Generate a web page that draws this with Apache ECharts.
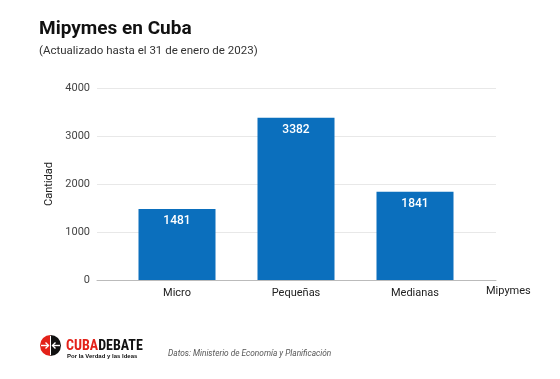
<!DOCTYPE html>
<html><head><meta charset="utf-8">
<script src="https://cdn.jsdelivr.net/npm/echarts@6/dist/echarts.min.js"></script>
<style>html,body{margin:0;padding:0;background:#fff}#c{width:560px;height:379px}</style>
</head><body><div id="c"></div>
<script>
const categories = ['Micro', 'Pequeñas', 'Medianas'];
const values = [1481, 3382, 1841];
const yTicks = [0, 1000, 2000, 3000, 4000];
const titleText = 'Mipymes en Cuba';
const subtitleText = '(Actualizado hasta el 31 de enero de 2023)';
const sourceText = 'Datos: Ministerio de Economía y Planificación';
const font = 'Roboto, Arial, sans-serif';

const chart = echarts.init(document.getElementById('c'), null, {renderer: 'canvas'});
chart.setOption({
  backgroundColor: '#fff',
  animation: false,
  title: [
    {text: titleText, left: 34, top: 15, padding: 5, textStyle: {fontFamily: font, fontSize: 19, fontWeight: 'bold', color: '#111'}},
    {text: subtitleText, left: 34, top: 40, padding: 5, textStyle: {fontFamily: font, fontSize: 11.5, fontWeight: 'normal', color: '#333'}}
  ],
  grid: [
    {left: 97, right: 64, top: 88, bottom: 99},
    {left: 117.5, right: 85.5, top: 88, bottom: 99}
  ],
  xAxis: [
    {gridIndex: 0, type: 'category', data: [''], axisLine: {lineStyle: {color: '#bbb'}}, axisTick: {show: false}, axisLabel: {show: false}},
    {gridIndex: 1, type: 'category', data: categories, axisLine: {show: false}, axisTick: {show: false},
     axisLabel: {fontFamily: font, fontSize: 11, color: '#222', margin: 8}}
  ],
  yAxis: [
    {gridIndex: 0, type: 'value', min: yTicks[0], max: yTicks[yTicks.length - 1], interval: 1000,
     name: 'Cantidad', nameLocation: 'middle', nameGap: 38, nameRotate: 90,
     nameTextStyle: {fontFamily: font, fontSize: 11, color: '#222'},
     axisLine: {show: false}, axisTick: {show: false},
     axisLabel: {fontFamily: font, fontSize: 11, color: '#444', margin: 7, formatter: v => String(v)},
     splitLine: {lineStyle: {color: '#e8e8e8'}}},
    {gridIndex: 1, type: 'value', min: yTicks[0], max: yTicks[yTicks.length - 1], interval: 1000, show: false, splitLine: {show: false}}
  ],
  series: [{
    type: 'bar', xAxisIndex: 1, yAxisIndex: 1, data: values, barWidth: 77,
    itemStyle: {color: '#0b6fbd'},
    label: {show: true, position: 'insideTop', distance: 6, color: '#fff', fontFamily: font, fontSize: 12, fontWeight: 500}
  }],
  graphic: [
    {type: 'text', left: 486, top: 286, style: {text: 'Mipymes', font: '11px ' + font, fill: '#222'}},
    {type: 'sector', shape: {cx: 50.5, cy: 345.5, r: 10.5, startAngle: Math.PI / 2, endAngle: Math.PI * 1.5}, style: {fill: '#e32119'}},
    {type: 'sector', shape: {cx: 50.5, cy: 345.5, r: 10.5, startAngle: -Math.PI / 2, endAngle: Math.PI / 2}, style: {fill: '#111'}},
    {type: 'polyline', shape: {points: [[41, 345.5], [48.5, 345.5]]}, style: {stroke: '#fff', lineWidth: 1.4}},
    {type: 'polyline', shape: {points: [[45.5, 342.5], [48.5, 345.5], [45.5, 348.5]]}, style: {stroke: '#fff', fill: null, lineWidth: 1.4}},
    {type: 'polyline', shape: {points: [[52.5, 345.5], [60, 345.5]]}, style: {stroke: '#fff', lineWidth: 1.4}},
    {type: 'polyline', shape: {points: [[55.5, 342.5], [52.5, 345.5], [55.5, 348.5]]}, style: {stroke: '#fff', fill: null, lineWidth: 1.4}},
    {type: 'polyline', shape: {points: [[50.5, 336], [50.5, 355]]}, style: {stroke: '#fff', lineWidth: 1}},
    {type: 'text', left: 66, top: 339, style: {text: '{r|CUBA}{b|DEBATE}', rich: {
      r: {font: 'bold 14px "Liberation Sans Narrow", "Roboto Condensed", Arial, sans-serif', fill: '#e32119'},
      b: {font: 'bold 14px "Liberation Sans Narrow", "Roboto Condensed", Arial, sans-serif', fill: '#111'}}}},
    {type: 'text', left: 67, top: 353, style: {text: 'Por la Verdad y las Ideas', font: 'bold 6px Arial, sans-serif', fill: '#111'}},
    {type: 'text', left: 168, top: 350, style: {text: sourceText, font: 'italic 8.3px ' + font, fill: '#555'}}
  ]
});
</script></body></html>
